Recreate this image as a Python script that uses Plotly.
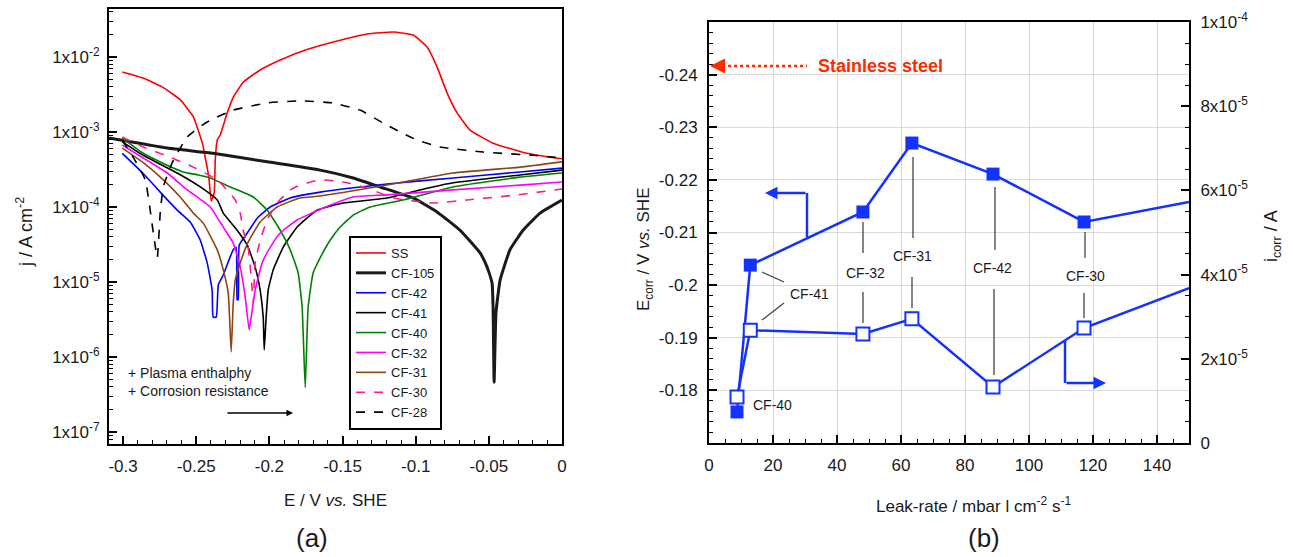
import plotly.graph_objects as go

W, H = 1293, 557
def px(x): return x / W
def py(y): return 1 - y / H

# ---------------- Panel (a): polarisation curves ----------------
E_SS = [-0.3005, -0.286, -0.2725, -0.261, -0.252, -0.2458, -0.2414, -0.2397, -0.2377, -0.237, -0.2356,
        -0.2336, -0.2288, -0.2247, -0.2179, -0.2063, -0.1926, -0.179, -0.1564, -0.1332, -0.1154, -0.1018,
        -0.0922, -0.0854, -0.0785, -0.0717, -0.0628, -0.0471, -0.0239, -0.0082, 0.0]
J_SS = [6.3e-3, 5.2e-3, 3.9e-3, 2.7e-3, 1.6e-3, 7.1e-4, 2.5e-4, 1.2e-4, 1.54e-4, 4.2e-4, 7.8e-4,
        9.1e-4, 1.8e-3, 2.9e-3, 4.6e-3, 6.7e-3, 9.1e-3, 1.17e-2, 1.58e-2, 2.03e-2, 2.15e-2, 1.96e-2,
        1.36e-2, 7.4e-3, 3.3e-3, 1.8e-3, 1.06e-3, 7.1e-4, 5.2e-4, 4.6e-4, 4.4e-4]

E_CF105 = [-0.3096, -0.2698, -0.2384, -0.2015, -0.1653, -0.1427, -0.1243, -0.1018, -0.0854, -0.0697, -0.056,
           -0.0512, -0.0478, -0.0471, -0.0464, -0.0451, -0.0423, -0.0355, -0.0266, -0.015, 0.0]
J_CF105 = [8.3e-4, 6.1e-4, 5.2e-4, 4.0e-4, 3.1e-4, 2.44e-4, 1.85e-4, 1.32e-4, 8.6e-5, 4.9e-5, 2.44e-5,
           1.58e-5, 9.7e-6, 4.6e-6, 4.6e-7, 3.9e-6, 1.06e-5, 2.7e-5, 4.9e-5, 8.3e-5, 1.24e-4]

E_CF42 = [-0.3005, -0.2862, -0.2746, -0.263, -0.2541, -0.2472, -0.2425, -0.2391, -0.2384, -0.2363, -0.2349,
          -0.2315, -0.2247, -0.2227, -0.222, -0.2213, -0.2206, -0.2151, -0.2083, -0.1994, -0.1858, -0.1653,
          -0.1195, -0.0744, -0.0287, 0.0]
J_CF42 = [5.2e-4, 2.8e-4, 1.58e-4, 9.1e-5, 6.3e-5, 3.6e-5, 1.8e-5, 7.8e-6, 3.4e-6, 3.4e-6, 9.1e-6,
          1.24e-5, 2.7e-5, 2.9e-5, 5.8e-6, 5.8e-6, 3.1e-5, 4.5e-5, 7.1e-5, 1.0e-4, 1.32e-4, 1.58e-4,
          2.03e-4, 2.44e-4, 2.93e-4, 3.3e-4]

E_CF41 = [-0.3005, -0.2862, -0.263, -0.2472, -0.2356, -0.2315, -0.222, -0.2151, -0.2097, -0.2063, -0.2042,
          -0.2035, -0.2022, -0.2008, -0.1974, -0.1906, -0.181, -0.1673, -0.1496, -0.1195, -0.097, -0.0744,
          -0.0287, 0.0]
J_CF41 = [7.4e-4, 4.9e-4, 2.84e-4, 1.85e-4, 1.24e-4, 8.3e-5, 4.9e-5, 3.1e-5, 1.58e-5, 7.8e-6, 3.4e-6,
          1.24e-6, 3.4e-6, 7.8e-6, 1.45e-5, 2.9e-5, 5.4e-5, 9.1e-5, 1.13e-4, 1.32e-4, 1.69e-4, 2.1e-4,
          2.67e-4, 3.1e-4]

E_CF40 = [-0.3005, -0.2862, -0.2698, -0.2589, -0.2486, -0.2404, -0.2268, -0.211, -0.2015, -0.1926, -0.1858,
          -0.1803, -0.1776, -0.1755, -0.1735, -0.1701, -0.1653, -0.1585, -0.1516, -0.1427, -0.1311, -0.1086,
          -0.0744, -0.0287, 0.0]
J_CF40 = [8.3e-4, 5.2e-4, 3.6e-4, 2.93e-4, 2.67e-4, 2.44e-4, 1.85e-4, 1.36e-4, 9.1e-5, 4.9e-5, 2.7e-5,
          1.32e-5, 4.6e-6, 3.9e-7, 4.6e-6, 1.32e-5, 2.1e-5, 3.6e-5, 5.4e-5, 7.8e-5, 1.0e-4, 1.24e-4,
          1.85e-4, 2.5e-4, 2.84e-4]

E_CF32 = [-0.3005, -0.2862, -0.2698, -0.2561, -0.2404, -0.2315, -0.2247, -0.2199, -0.2165, -0.2138, -0.2124,
          -0.2097, -0.2049, -0.1994, -0.1926, -0.181, -0.1632, -0.1427, -0.1195, -0.0744, -0.0287, 0.0]
J_CF32 = [6.7e-4, 4.5e-4, 2.84e-4, 1.69e-4, 1.0e-4, 5.4e-5, 3.3e-5, 1.58e-5, 6.3e-6, 2.3e-6, 3.4e-6,
          7.8e-6, 1.8e-5, 2.9e-5, 4.5e-5, 6.7e-5, 9.7e-5, 1.36e-4, 1.45e-4, 1.69e-4, 1.96e-4, 2.15e-4]

E_CF31 = [-0.3005, -0.2862, -0.2725, -0.2609, -0.252, -0.2452, -0.2357, -0.2315, -0.2281, -0.2261, -0.2247,
          -0.2233, -0.2199, -0.2145, -0.2063, -0.1947, -0.179, -0.1653, -0.1195, -0.0744, -0.0287, 0.0]
J_CF31 = [6.1e-4, 3.9e-4, 2.3e-4, 1.36e-4, 8.3e-5, 6.1e-5, 2.7e-5, 1.45e-5, 7.1e-6, 1.17e-6, 5.2e-6,
          1.06e-5, 1.8e-5, 3.4e-5, 6.3e-5, 1.0e-4, 1.32e-4, 1.4e-4, 1.96e-4, 2.84e-4, 3.4e-4, 4.0e-4]

E_CF30 = [-0.3005, -0.2862, -0.2677, -0.252, -0.2356, -0.2233, -0.2199, -0.2179, -0.2145, -0.2117, -0.211,
          -0.2097, -0.2063, -0.2015, -0.1947, -0.1858, -0.179, -0.1653, -0.1496, -0.1332, -0.1154, -0.0881,
          -0.0649, -0.0307, 0.0]
J_CF30 = [8.6e-4, 6.3e-4, 4.6e-4, 3.4e-4, 2.3e-4, 1.24e-4, 8.3e-5, 4.9e-5, 2.9e-5, 7.8e-6, 5.2e-6,
          1.8e-5, 3.6e-5, 6.7e-5, 1.13e-4, 1.69e-4, 1.96e-4, 2.3e-4, 2.15e-4, 1.79e-4, 1.32e-4, 1.13e-4,
          1.24e-4, 1.45e-4, 1.74e-4]

E_CF28 = [-0.3005, -0.293, -0.2848, -0.2793, -0.2766, -0.2746, -0.2725, -0.2664, -0.2561, -0.2425, -0.2247,
          -0.2015, -0.179, -0.1564, -0.138, -0.1223, -0.1106, -0.099, -0.0833, -0.054, -0.0198, 0.0]
J_CF28 = [7.8e-4, 4.6e-4, 2.3e-4, 4.5e-5, 2.1e-5, 8.3e-5, 1.85e-4, 3.9e-4, 8.6e-4, 1.36e-3, 1.96e-3,
          2.44e-3, 2.6e-3, 2.44e-3, 1.96e-3, 1.32e-3, 1.0e-3, 7.8e-4, 6.3e-4, 5.4e-4, 4.9e-4, 4.5e-4]

X_TICKS_A = [-0.3, -0.25, -0.2, -0.15, -0.1, -0.05, 0]
X_TEXT_A = ["-0.3", "-0.25", "-0.2", "-0.15", "-0.1", "-0.05", "0"]
Y_TICKS_A = [1e-7, 1e-6, 1e-5, 1e-4, 1e-3, 1e-2]
Y_TEXT_A = ["1x10<sup>-7</sup>", "1x10<sup>-6</sup>", "1x10<sup>-5</sup>",
            "1x10<sup>-4</sup>", "1x10<sup>-3</sup>", "1x10<sup>-2</sup>"]

# ---------------- Panel (b): Ecorr / icorr vs leak rate ----------------
samples = ["CF-40", "CF-41", "CF-32", "CF-31", "CF-42", "CF-30"]
leak_rate = [8.75, 12.9, 48.1, 63.4, 88.75, 117.2]
E_corr = [-0.1759, -0.2038, -0.2139, -0.227, -0.2211, -0.212]
i_corr = [1.09e-5, 2.68e-5, 2.59e-5, 2.95e-5, 1.33e-5, 2.73e-5]
# continuation of both lines to the right edge (CF-105, off-scale leak rate)
leak_edge = 150
E_corr_edge = -0.2158
i_corr_edge = 3.68e-5

X_TICKS_B = [0, 20, 40, 60, 80, 100, 120, 140]
YL_TICKS_B = [-0.24, -0.23, -0.22, -0.21, -0.2, -0.19, -0.18]
YL_TEXT_B = ["-0.24", "-0.23", "-0.22", "-0.21", "-0.2", "-0.19", "-0.18"]
YR_TICKS_B = [0, 2e-5, 4e-5, 6e-5, 8e-5, 1e-4]
YR_TEXT_B = ["0", "2x10<sup>-5</sup>", "4x10<sup>-5</sup>", "6x10<sup>-5</sup>",
             "8x10<sup>-5</sup>", "1x10<sup>-4</sup>"]

FONT = "Liberation Sans, Arial, Helvetica, sans-serif"
BLUE = "#1432ff"
TXT = "#1a1a1a"

fig = go.Figure()

curves = [
    ("SS", E_SS, J_SS, "#ff0000", 1.6, "solid"),
    ("CF-105", E_CF105, J_CF105, "#1a1a1a", 3.0, "solid"),
    ("CF-42", E_CF42, J_CF42, "#0000ff", 1.6, "solid"),
    ("CF-41", E_CF41, J_CF41, "#000000", 1.6, "solid"),
    ("CF-40", E_CF40, J_CF40, "#008000", 1.6, "solid"),
    ("CF-32", E_CF32, J_CF32, "#ff00ff", 1.6, "solid"),
    ("CF-31", E_CF31, J_CF31, "#8b4513", 1.6, "solid"),
    ("CF-30", E_CF30, J_CF30, "#ff1a8c", 1.6, "dash"),
    ("CF-28", E_CF28, J_CF28, "#000000", 1.6, "dash"),
]
for name, e, j, c, w, d in curves:
    fig.add_trace(go.Scatter(x=e, y=j, mode="lines", name=name,
                             line=dict(color=c, width=w, dash=d, shape="spline", smoothing=0.4),
                             xaxis="x", yaxis="y"))

fig.add_trace(go.Scatter(x=leak_rate + [leak_edge], y=E_corr + [E_corr_edge], mode="lines+markers",
                         line=dict(color=BLUE, width=2.5), opacity=1,
                         marker=dict(symbol="square", size=[13] * len(leak_rate) + [0], color=BLUE,
                                     opacity=1, line=dict(width=0)),
                         showlegend=False, xaxis="x2", yaxis="y3", cliponaxis=False))
fig.add_trace(go.Scatter(x=leak_rate + [leak_edge], y=i_corr + [i_corr_edge], mode="lines+markers",
                         line=dict(color=BLUE, width=2.5), opacity=1,
                         marker=dict(symbol="square", size=[13] * len(leak_rate) + [0], color="white",
                                     opacity=1, line=dict(color=BLUE, width=2)),
                         showlegend=False, xaxis="x2", yaxis="y4", cliponaxis=False))

tickfont = dict(family=FONT, size=17, color=TXT)
minor_log = [k * 10.0 ** n for n in range(-8, -1) for k in range(2, 10)]

common = dict(automargin=False, ticks="inside", ticklen=8, tickwidth=1.5, tickcolor="black",
              tickfont=tickfont, showline=True, linecolor="black", linewidth=2, zeroline=False)

fig.update_layout(
    width=W, height=557, margin=dict(l=0, r=0, t=0, b=0, autoexpand=False),
    paper_bgcolor="white", plot_bgcolor="white",
    font=dict(family=FONT, color=TXT),
    xaxis=dict(domain=[px(109), px(562)], range=[-0.3096, 0], anchor="y",
               tickmode="array", tickvals=X_TICKS_A, ticktext=X_TEXT_A,
               minor=dict(dtick=0.01, tick0=0, ticks="inside", ticklen=4, tickwidth=1, tickcolor="black"),
               mirror=True, showgrid=False, ticklabelstandoff=6, **common),
    yaxis=dict(domain=[py(444), py(9)], type="log", range=[-7.16, -1.36], anchor="x",
               tickmode="array", tickvals=Y_TICKS_A, ticktext=Y_TEXT_A,
               minor=dict(tickmode="array", tickvals=minor_log, ticks="inside", ticklen=4, tickwidth=1,
                          tickcolor="black"),
               mirror=True, showgrid=False, ticklabelstandoff=4, **common),
    xaxis2=dict(domain=[px(709), px(1189)], range=[0, 150], anchor="y3",
                tickmode="array", tickvals=X_TICKS_B,
                minor=dict(dtick=5, tick0=0, ticks="inside", ticklen=4, tickwidth=1, tickcolor="black"),
                mirror=True, showgrid=True, gridcolor="#d9d9d9", gridwidth=1, ticklabelstandoff=6, **common),
    yaxis3=dict(domain=[py(443), py(22)], range=[-0.17, -0.25], anchor="x2",
                tickmode="array", tickvals=YL_TICKS_B, ticktext=YL_TEXT_B,
                minor=dict(dtick=0.002, tick0=0, ticks="inside", ticklen=4, tickwidth=1, tickcolor="black"),
                mirror=False, showgrid=True, gridcolor="#d9d9d9", gridwidth=1, ticklabelstandoff=6, **common),
    yaxis4=dict(overlaying="y3", side="right", anchor="x2", range=[0, 1e-4],
                tickmode="array", tickvals=YR_TICKS_B, ticktext=YR_TEXT_B,
                minor=dict(dtick=5e-6, tick0=0, ticks="inside", ticklen=4, tickwidth=1, tickcolor="black"),
                showgrid=False, ticklabelstandoff=6, **common),
    legend=dict(x=px(349), y=py(236), xanchor="left", yanchor="top",
                bordercolor="black", borderwidth=2, bgcolor="white",
                font=dict(family=FONT, size=13, color=TXT), tracegroupgap=0, itemwidth=30),
)

ann = []
def text(x, y, s, size=14, angle=0, color=TXT, xanchor="center", bold=False):
    ann.append(dict(x=px(x), y=py(y), xref="paper", yref="paper", text=("<b>%s</b>" % s) if bold else s,
                    showarrow=False, textangle=angle, xanchor=xanchor, yanchor="middle",
                    font=dict(family=FONT, size=size, color=color)))

# axis titles and panel letters
text(25, 232, "j / A cm<sup>-2</sup>", size=18, angle=-90)
text(335, 500, "E / V <i>vs.</i> SHE", size=17)
text(312, 538, "(a)", size=26)
text(645, 250, "E<sub>corr</sub> / V <i>vs.</i> SHE", size=17, angle=-90)
text(1272, 236, "i<sub>corr</sub> / A", size=18, angle=-90)
text(973, 505, "Leak-rate / mbar l cm<sup>-2</sup> s<sup>-1</sup>", size=17)
text(984, 538, "(b)", size=26)

# panel (a) note
ann.append(dict(x=px(126), y=py(382), xref="paper", yref="paper", showarrow=False, align="left",
                xanchor="left", yanchor="middle",
                text="+ Plasma enthalphy<br>+ Corrosion resistance",
                font=dict(family=FONT, size=14, color=TXT)))
ann.append(dict(x=px(293), y=py(413), xref="paper", yref="paper", ax=-67, ay=0, text="",
                showarrow=True, arrowhead=2, arrowsize=1, arrowwidth=1.3, arrowcolor="black"))

# panel (b) labels
text(772, 405, "CF-40", size=14)
text(809, 294, "CF-41", size=14)
text(865, 273, "CF-32", size=14)
text(912, 256, "CF-31", size=14)
text(993, 268, "CF-42", size=14)
text(1085, 276, "CF-30", size=14)
text(880, 66, "Stainless steel", size=18, color="#ff2a00", bold=True)

# blue arrows indicating the axes
ann.append(dict(x=px(765), y=py(193), xref="paper", yref="paper", ax=42, ay=0, text="",
                showarrow=True, arrowhead=2, arrowsize=1, arrowwidth=2.5, arrowcolor=BLUE))
ann.append(dict(x=px(1106), y=py(383), xref="paper", yref="paper", ax=-41, ay=0, text="",
                showarrow=True, arrowhead=2, arrowsize=1, arrowwidth=2.5, arrowcolor=BLUE))
# stainless steel arrowhead
ann.append(dict(x=px(710), y=py(66), xref="paper", yref="paper", ax=14, ay=0, text="",
                showarrow=True, arrowhead=2, arrowsize=1.2, arrowwidth=2.5, arrowcolor="#ff2a00"))
fig.update_layout(annotations=ann)

shapes = []
def seg(x0, y0, x1, y1, color="#444444", width=1.3, dash="solid"):
    shapes.append(dict(type="line", xref="paper", yref="paper", x0=px(x0), y0=py(y0), x1=px(x1), y1=py(y1),
                       line=dict(color=color, width=width, dash=dash)))

seg(762, 272, 784, 282)
seg(762, 320, 784, 303)
seg(863, 222, 863, 253)
seg(863, 292, 863, 323)
seg(913, 157, 913, 238)
seg(912, 277, 912, 308)
seg(995, 187, 995, 250)
seg(994, 289, 994, 375)
seg(1085, 232, 1085, 258)
seg(1084, 293, 1084, 318)
seg(807, 237, 807, 193, color=BLUE, width=2.5)
seg(1065, 340, 1065, 383, color=BLUE, width=2.5)
seg(722, 66, 807, 66, color="#ff2a00", width=2.5, dash="dot")
fig.update_layout(shapes=shapes)

fig.write_html("out.html", config={"displayModeBar": False},
               post_script="document.body.style.margin='0';document.body.style.overflow='hidden';")
